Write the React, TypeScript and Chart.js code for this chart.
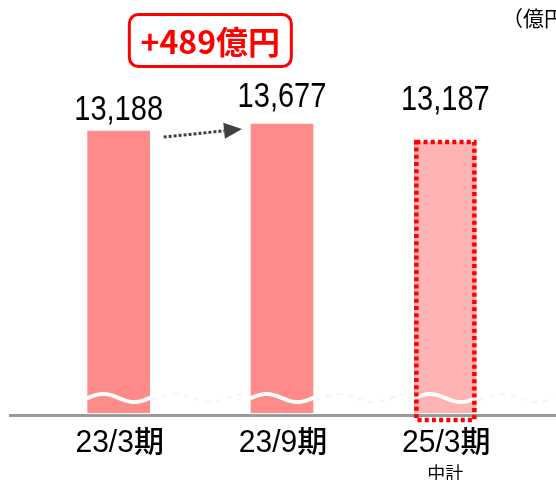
import React, { useEffect, useRef } from "react";
import { Chart, registerables } from "chart.js";

Chart.register(...registerables);

// ---- data ----
const categories = ["23/3期", "23/9期", "25/3期"];
const subLabels = ["", "", "中計"];
const values = [13188, 13677, 13187];
// visual bar heights (axis is broken / truncated)
const barHeights = [282, 289, 271];
const diffLabel = "+489億円";
const unitLabel = "（億円）";
const breakLevel = 15; // where the wavy break is drawn (same units as barHeights)

// ---- styles ----
const LATIN_FONT = "'Liberation Sans', Arial, sans-serif";
const CJK_FONT = "'Noto Sans CJK JP', sans-serif";
const barColors = ["#ff8a8a", "#ff8a8a", "#ffb3b3"];
const labelGap = [11, 17, 32];

// draw text centred at x, with ASCII runs horizontally condensed (gothic-like)
function drawMixed(
  ctx: CanvasRenderingContext2D,
  text: string,
  cx: number,
  y: number,
  latinFont: string,
  cjkFont: string,
  sx: number
) {
  const runs: { t: string; latin: boolean }[] = [];
  for (const ch of text) {
    const latin = ch.charCodeAt(0) < 128;
    const last = runs[runs.length - 1];
    if (last && last.latin === latin) last.t += ch;
    else runs.push({ t: ch, latin });
  }
  let total = 0;
  const widths = runs.map((r) => {
    ctx.font = r.latin ? latinFont : cjkFont;
    const w = ctx.measureText(r.t).width * (r.latin ? sx : 1);
    total += w;
    return w;
  });
  let x = cx - total / 2;
  ctx.textAlign = "left";
  runs.forEach((r, i) => {
    ctx.font = r.latin ? latinFont : cjkFont;
    ctx.save();
    ctx.translate(x, y);
    if (r.latin) ctx.scale(sx, 1);
    ctx.fillText(r.t, 0, 0);
    ctx.restore();
    x += widths[i];
  });
}

const overlayPlugin = {
  id: "overlay",
  afterDatasetsDraw(chart: any) {
    const ctx = chart.ctx as CanvasRenderingContext2D;
    const area = chart.chartArea;
    const meta = chart.getDatasetMeta(0);
    const yScale = chart.scales.y;
    ctx.save();

    // wavy break
    const yb = yScale.getPixelForValue(breakLevel);
    meta.data.forEach((bar: any, i: number) => {
      const w = 62;
      const left = bar.x - w / 2;
      ctx.beginPath();
      for (let x = left - 1; x <= left + w + 1; x += 1) {
        const y = yb - 4 * Math.sin((2 * Math.PI * (x - left)) / w);
        if (x === left - 1) ctx.moveTo(x, y);
        else ctx.lineTo(x, y);
      }
      ctx.strokeStyle = "#ffffff";
      ctx.lineWidth = 4;
      ctx.stroke();
      // faint continuation to the right
      ctx.beginPath();
      const next = meta.data[i + 1];
      const endX = next ? next.x - w / 2 : area.right + 29;
      for (let x = left + w + 2; x <= endX - 2; x += 1) {
        const y = yb - 4 * Math.sin((2 * Math.PI * (x - left)) / 70);
        if (x === left + w + 2) ctx.moveTo(x, y);
        else ctx.lineTo(x, y);
      }
      ctx.strokeStyle = "rgba(200,200,200,0.18)";
      ctx.lineWidth = 2;
      ctx.setLineDash([6, 5]);
      ctx.stroke();
      ctx.setLineDash([]);
    });

    // axis line
    ctx.beginPath();
    ctx.moveTo(9, area.bottom + 2.5);
    ctx.lineTo(chart.width, area.bottom + 2.5);
    ctx.strokeStyle = "#9a9a9a";
    ctx.lineWidth = 3;
    ctx.stroke();

    // dashed border for plan bar
    const b3 = meta.data[2];
    ctx.beginPath();
    ctx.rect(b3.x - 29, b3.y, 58, area.bottom + 7 - b3.y);
    ctx.strokeStyle = "#ff0000";
    ctx.lineWidth = 4.5;
    ctx.setLineDash([4, 3.2]);
    ctx.stroke();
    ctx.setLineDash([]);

    // value labels
    ctx.fillStyle = "#000000";
    ctx.textBaseline = "alphabetic";
    meta.data.forEach((bar: any, i: number) => {
      drawMixed(
        ctx,
        values[i].toLocaleString("en-US"),
        bar.x,
        bar.y - labelGap[i],
        `35px ${LATIN_FONT}`,
        `35px ${CJK_FONT}`,
        0.83
      );
    });

    // category labels
    meta.data.forEach((bar: any, i: number) => {
      drawMixed(
        ctx,
        categories[i],
        bar.x + 1,
        area.bottom + 39,
        `31px ${LATIN_FONT}`,
        `500 30px ${CJK_FONT}`,
        0.97
      );
      if (subLabels[i]) {
        ctx.textAlign = "center";
        ctx.font = `18px ${CJK_FONT}`;
        ctx.fillText(subLabels[i], bar.x, area.bottom + 67);
      }
    });

    // dotted arrow between bar 1 and bar 2
    const b1 = meta.data[0];
    const b2 = meta.data[1];
    const x0 = b1.x + 45;
    const y0 = b1.y + 6;
    const tipX = b2.x - 40;
    const tipY = b1.y - 2;
    const ang = Math.atan2(tipY - y0, tipX - x0);
    const headLen = 18;
    const bx = tipX - headLen * Math.cos(ang);
    const by = tipY - headLen * Math.sin(ang);
    ctx.beginPath();
    ctx.moveTo(x0, y0);
    ctx.lineTo(bx, by);
    ctx.strokeStyle = "#404040";
    ctx.lineWidth = 3;
    ctx.setLineDash([3, 2]);
    ctx.stroke();
    ctx.setLineDash([]);
    ctx.beginPath();
    ctx.moveTo(tipX, tipY);
    ctx.lineTo(bx - 8 * Math.sin(ang), by + 8 * Math.cos(ang));
    ctx.lineTo(bx + 8 * Math.sin(ang), by - 8 * Math.cos(ang));
    ctx.closePath();
    ctx.fillStyle = "#404040";
    ctx.fill();

    // difference box
    const cx = (b1.x + b2.x) / 2 + 10;
    const bw = 162;
    const bh = 52;
    const top = 14.5;
    ctx.beginPath();
    (ctx as any).roundRect(cx - bw / 2, top, bw, bh, 9);
    ctx.fillStyle = "#ffffff";
    ctx.fill();
    ctx.strokeStyle = "#ff0000";
    ctx.lineWidth = 3;
    ctx.stroke();
    ctx.fillStyle = "#ff0000";
    ctx.textAlign = "center";
    ctx.font = `bold 32px ${CJK_FONT}`;
    ctx.textBaseline = "middle";
    ctx.fillText(diffLabel, cx, top + bh / 2 + 1);

    // unit label
    ctx.fillStyle = "#000000";
    ctx.textAlign = "left";
    ctx.textBaseline = "alphabetic";
    ctx.font = `21px ${CJK_FONT}`;
    ctx.fillText(unitLabel, 502, 26);

    ctx.restore();
  },
};

export default function App() {
  const ref = useRef<HTMLCanvasElement | null>(null);
  useEffect(() => {
    if (!ref.current) return;
    const chart = new Chart(ref.current, {
      type: "bar",
      data: {
        labels: categories,
        datasets: [
          {
            data: barHeights,
            backgroundColor: barColors,
            borderWidth: 0,
            barThickness: 62,
          },
        ],
      },
      options: {
        responsive: false,
        animation: false,
        events: [],
        layout: { padding: { left: 37, right: 29, top: 13, bottom: 67 } },
        plugins: { legend: { display: false }, tooltip: { enabled: false } },
        scales: {
          x: { display: false, offset: true },
          y: { display: false, min: 0, max: 400 },
        },
      },
      plugins: [overlayPlugin],
    });
    return () => chart.destroy();
  }, []);
  return (
    <div style={{ position: "absolute", left: 0, top: 0, width: 556, height: 480, background: "#fff" }}>
      <canvas ref={ref} width={556} height={480} />
    </div>
  );
}
